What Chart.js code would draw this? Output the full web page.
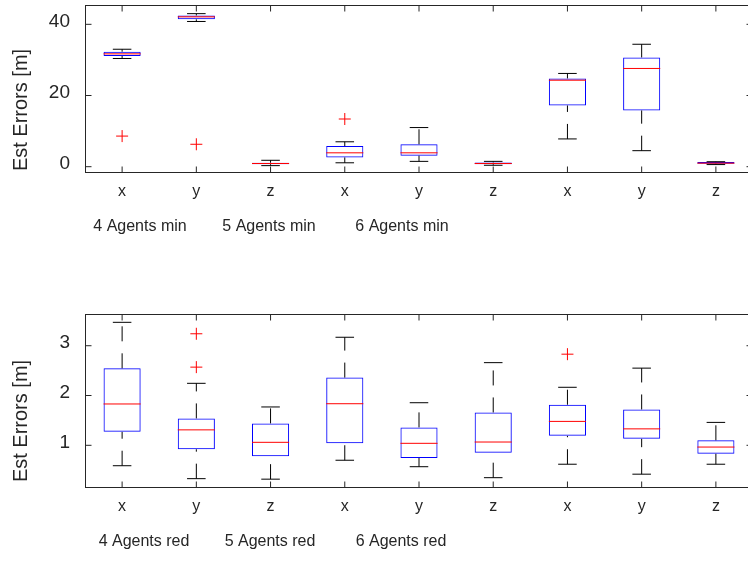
<!DOCTYPE html>
<html><head><meta charset="utf-8">
<script src="https://cdn.jsdelivr.net/npm/chart.js@4.4.0/dist/chart.umd.min.js"></script>
<style>
html,body{margin:0;padding:0;overflow:hidden;background:#fff;width:748px;height:561px;}
#wrap{position:relative;width:748px;height:561px;overflow:hidden;background:#fff;}
canvas{position:absolute;left:0;}
</style></head><body>
<div id="wrap">
<canvas id="c1" width="760" height="280" style="top:0px"></canvas>
<canvas id="c2" width="760" height="281" style="top:280px"></canvas>
</div>
<script>
// ---- categories / labels ----
const axisNames = ['x','y','z','x','y','z','x','y','z'];
const groupsMin = ['4 Agents min','5 Agents min','6 Agents min'];
const groupsRed = ['4 Agents red','5 Agents red','6 Agents red'];
const yLabelText = 'Est Errors [m]';
const yTicksMin = [0, 20, 40];
const yTicksRed = [1, 2, 3];

// ---- top subplot (min) ----
const loMin  = [30.4, 40.8, 0.3, 1.1, 1.5, 0.4, 7.8, 4.5, 0.6];
const q1Min  = [31.1, 41.4, 0.7, 2.6, 3.1, 0.7, 17.2, 15.8, 0.85];
const medMin = [31.7, 42.1, 0.9, 3.9, 3.9, 0.9, 24.3, 27.6, 1.0];
const q3Min  = [32.3, 42.5, 1.1, 5.8, 6.3, 1.2, 24.8, 30.7, 1.3];
const hiMin  = [33.0, 43.0, 1.8, 7.0, 11.0, 1.5, 26.2, 34.4, 1.4];
const outMinIdx = [0, 1, 3];
const outMinVal = [8.6, 6.3, 13.4];

// ---- bottom subplot (red) ----
const loRed  = [0.59, 0.33, 0.32, 0.70, 0.57, 0.35, 0.62, 0.42, 0.62];
const q1Red  = [1.27, 0.92, 0.78, 1.04, 0.745, 0.85, 1.19, 1.13, 0.83];
const medRed = [1.83, 1.31, 1.06, 1.835, 1.04, 1.066, 1.48, 1.33, 0.965];
const q3Red  = [2.546, 1.54, 1.44, 2.36, 1.36, 1.66, 1.815, 1.72, 1.10];
const hiRed  = [3.47, 2.245, 1.77, 3.17, 1.855, 2.66, 2.165, 2.55, 1.46];
const outRedIdx = [1, 1, 6];
const outRedVal = [3.24, 2.57, 2.83];

const FONT = "'Liberation Sans', Arial, Helvetica, sans-serif";
const AX = '#262626';

function makePlugin(cfg){
  function line(ctx,x1,y1,x2,y2){ctx.beginPath();ctx.moveTo(x1,y1);ctx.lineTo(x2,y2);ctx.stroke();}
  return {
    id:'boxes_'+cfg.id,
    afterDatasetsDraw(chart){
      const ctx = chart.ctx, ys = chart.scales.y;
      const bars = chart.getDatasetMeta(0).data;
      ctx.save();
      ctx.lineWidth = 1;
      bars.forEach((bar,i)=>{
        const x = bar.x, hw = bar.width/2;
        const pLo = ys.getPixelForValue(cfg.lo[i]);
        const pQ1 = ys.getPixelForValue(cfg.q1[i]);
        const pMed = ys.getPixelForValue(cfg.med[i]);
        const pQ3 = ys.getPixelForValue(cfg.q3[i]);
        const pHi = ys.getPixelForValue(cfg.hi[i]);
        ctx.strokeStyle = '#000000';
        ctx.setLineDash([15,12]);
        line(ctx,x,pLo,x,pQ1);
        line(ctx,x,pQ3,x,pHi);
        ctx.setLineDash([]);
        line(ctx,x-hw/2,pLo,x+hw/2,pLo);
        line(ctx,x-hw/2,pHi,x+hw/2,pHi);
        ctx.strokeStyle = '#ff0000';
        line(ctx,x-hw,pMed,x+hw,pMed);
      });
      ctx.restore();
    },
    afterDraw(chart){
      const ctx = chart.ctx, a = chart.chartArea, xs = chart.scales.x, ys = chart.scales.y;
      ctx.save();
      ctx.strokeStyle = AX; ctx.lineWidth = 1;
      ctx.strokeRect(a.left+0.5, a.top+0.5, a.right-a.left-1, a.bottom-a.top-1);
      const TL = 6.5;
      xs.ticks.forEach((t,i)=>{
        const px = xs.getPixelForTick(i);
        line(ctx,px,a.bottom,px,a.bottom-TL);
        line(ctx,px,a.top,px,a.top+TL);
      });
      cfg.yTicks.forEach(v=>{
        const py = ys.getPixelForValue(v);
        line(ctx,a.left,py,a.left+TL,py);
        line(ctx,a.right,py,a.right-TL,py);
      });
      // y label
      ctx.fillStyle = AX;
      ctx.font = '20px ' + FONT;
      ctx.textAlign = 'center'; ctx.textBaseline = 'alphabetic';
      ctx.save();
      ctx.translate(27, cfg.ylabelY);
      ctx.rotate(-Math.PI/2);
      ctx.fillText(yLabelText, 0, 0);
      ctx.restore();
      // group labels
      ctx.font = '16px ' + FONT;
      cfg.groups.forEach((g,i)=>{ ctx.fillText(g, cfg.groupX[i], cfg.groupY); });
      ctx.restore();
    }
  };
}

function zeroPad(s){ s.paddingTop = 0; s.paddingBottom = 0; s.paddingLeft = 0; s.paddingRight = 0; }

function makeChart(cfg){
  const keys = axisNames.map((n,i)=>n+'_'+i);
  return new Chart(document.getElementById(cfg.id), {
    type:'bar',
    data:{
      labels: keys,
      datasets:[
        {type:'bar', data: cfg.q1.map((v,i)=>[v, cfg.q3[i]]),
         backgroundColor:'rgba(0,0,0,0)', borderColor:'#0000ff', borderWidth:1,
         borderSkipped:false, barPercentage:0.5, categoryPercentage:1},
        {type:'scatter', data: cfg.outIdx.map((k,j)=>({x: keys[k], y: cfg.outVal[j]})),
         pointStyle:'cross', radius:6, hoverRadius:6, borderColor:'#ff0000', backgroundColor:'#ff0000', borderWidth:1}
      ]
    },
    options:{
      responsive:false, animation:false, devicePixelRatio:1,
      layout:{autoPadding:false, padding:{top:cfg.padTop, right:7, left:0, bottom:0}},
      plugins:{legend:{display:false}, tooltip:{enabled:false}},
      scales:{
        x:{type:'category', offset:true,
           grid:{display:false, drawTicks:false}, border:{display:false},
           ticks:{color:AX, font:{family:FONT, size:16}, padding:9, maxRotation:0, autoSkip:false,
                  callback:(v,i)=>axisNames[i]},
           afterFit:s=>{s.height = cfg.xH; zeroPad(s);}},
        y:{type:'linear', min:cfg.min, max:cfg.max,
           grid:{display:false, drawTicks:false}, border:{display:false},
           ticks:{color:AX, font:{family:FONT, size:19, lineHeight:'6px'}, padding:15,
                  callback:v=>[String(v), '']},
           afterBuildTicks:s=>{s.ticks = cfg.yTicks.map(v=>({value:v}));},
           afterFit:s=>{s.width = 85; zeroPad(s);}}
      }
    },
    plugins:[makePlugin(cfg)]
  });
}

makeChart({id:'c1', lo:loMin, q1:q1Min, med:medMin, q3:q3Min, hi:hiMin,
  outIdx:outMinIdx, outVal:outMinVal, yTicks:yTicksMin, min:-1.77, max:45.43,
  padTop:5, xH:107, groups:groupsMin, groupX:[140,269,402], groupY:231, ylabelY:110});
makeChart({id:'c2', lo:loRed, q1:q1Red, med:medRed, q3:q3Red, hi:hiRed,
  outIdx:outRedIdx, outVal:outRedVal, yTicks:yTicksRed, min:0.1426, max:3.637,
  padTop:34, xH:73, groups:groupsRed, groupX:[144,270,401], groupY:266, ylabelY:141});
</script>
</body></html>
